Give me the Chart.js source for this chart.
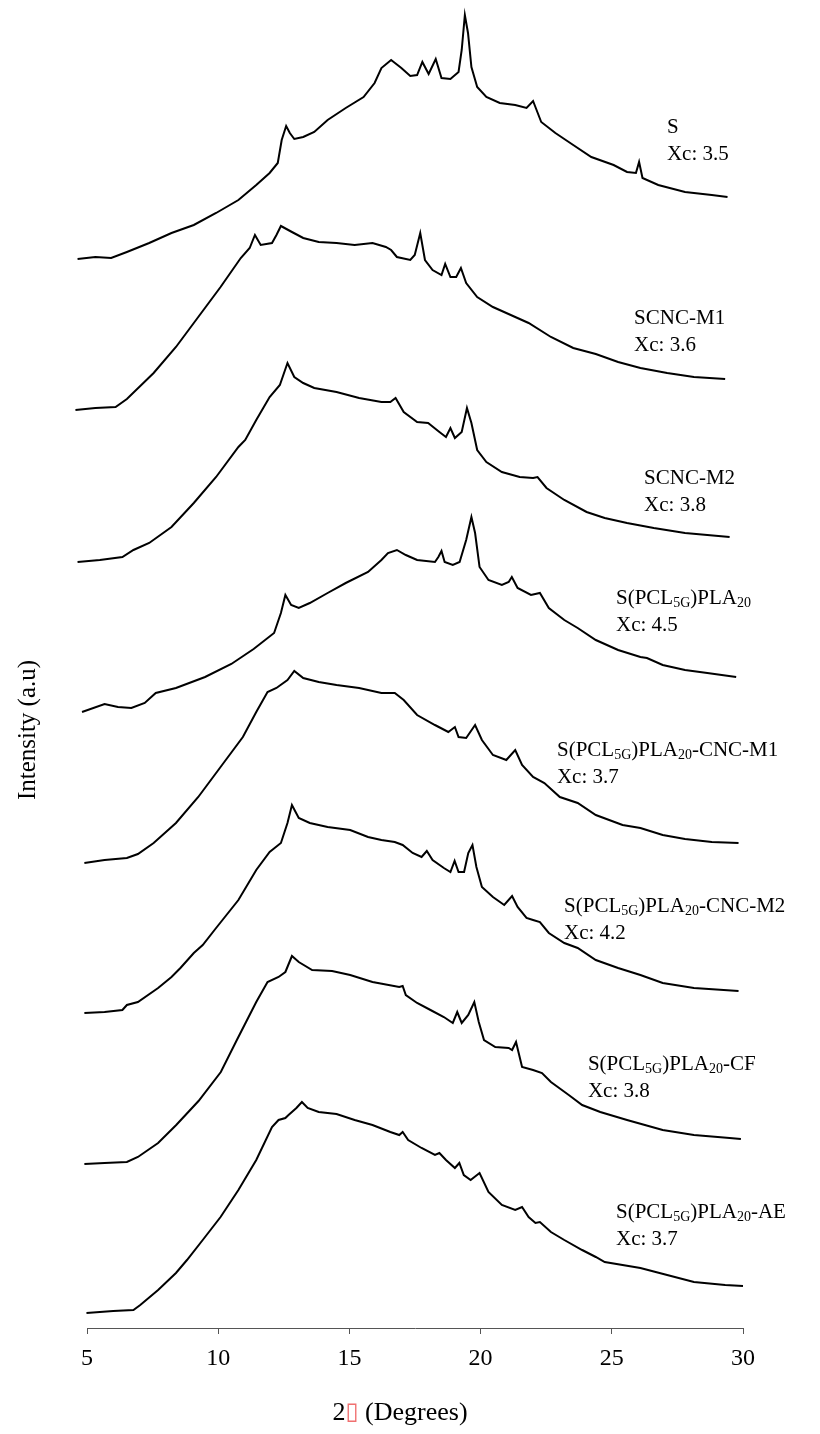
<!DOCTYPE html>
<html>
<head>
<meta charset="utf-8">
<script src="https://cdn.jsdelivr.net/npm/chart.js@4.4.0/dist/chart.umd.min.js"></script>
<style>
html, body { margin: 0; padding: 0; background: #fff; }
</style>
</head>
<body>
<canvas id="myChart" width="820" height="1434"></canvas>
<script>
// 2-theta (degrees) and stacked intensity (a.u.) for each pattern
var sX = [4.64,5.32,5.92,6.52,7.37,8.22,9.07,9.92,10.77,11.45,11.96,12.27,12.42,12.59,12.73,12.9,13.24,13.66,14.17,14.86,15.54,15.96,16.22,16.59,16.98,17.32,17.58,17.78,18.02,18.29,18.51,18.85,19.16,19.28,19.4,19.52,19.65,19.87,20.22,20.73,21.32,21.75,22.0,22.31,22.85,23.53,24.22,25.07,25.58,25.92,26.04,26.17,26.77,27.79,28.81,29.41];
var sY = [1069,1071,1070,1076,1085,1095,1103,1115,1128,1143,1155,1165,1188,1202,1195,1189,1191,1196,1208,1220,1231,1245,1260,1268,1260,1252,1253,1266,1254,1269,1250,1249,1256,1278,1313,1295,1261,1241,1231,1225,1223,1220,1227,1206,1195,1183,1171,1163,1156,1155,1166,1150,1143,1136,1133,1131];

var m1X = [4.56,5.32,6.09,6.52,7.54,8.39,9.24,10.09,10.86,11.2,11.4,11.62,12.05,12.22,12.39,12.81,13.24,13.83,14.51,15.2,15.88,16.39,16.59,16.81,17.32,17.49,17.7,17.88,18.17,18.51,18.65,18.85,19.07,19.25,19.45,19.87,20.47,21.15,21.83,22.68,23.53,24.39,25.24,26.09,27.11,28.13,29.32];
var m1Y = [918,920,921,929,955,981,1011,1041,1070,1080,1093,1083,1085,1093,1102,1096,1090,1086,1085,1083,1085,1081,1078,1071,1068,1073,1095,1068,1058,1053,1064,1051,1051,1060,1045,1031,1021,1013,1005,991,980,974,966,960,955,951,949];

var m2X = [4.64,5.49,6.35,6.77,7.37,8.22,9.07,9.92,10.77,11.03,11.45,11.96,12.35,12.64,12.9,13.24,13.66,14.51,15.37,16.22,16.56,16.76,17.07,17.58,18.0,18.43,18.68,18.85,19.02,19.28,19.48,19.65,19.87,20.22,20.81,21.49,22.0,22.17,22.51,23.19,24.04,24.73,25.58,26.6,27.79,29.49];
var m2Y = [766,768,771,778,785,801,825,851,881,888,908,931,943,965,951,945,940,936,930,926,926,930,916,906,905,896,891,900,890,896,920,905,878,866,856,851,850,851,840,828,816,810,805,800,795,791];

var pX = [4.81,5.67,6.18,6.69,7.2,7.62,8.39,9.5,10.5,11.35,12.13,12.39,12.56,12.78,13.07,13.49,14.17,14.86,15.71,16.22,16.47,16.81,17.15,17.58,18.26,18.39,18.51,18.63,18.94,19.2,19.45,19.65,19.79,19.96,20.3,20.81,21.07,21.19,21.41,21.92,22.26,22.6,23.19,23.7,24.39,25.24,26.09,26.34,26.94,27.79,28.64,29.74];
var pY = [616,624,621,620,625,635,640,651,664,679,695,715,733,723,720,725,735,745,756,768,775,778,773,768,766,771,777,766,763,766,788,811,795,761,748,743,746,751,740,733,735,720,708,700,688,678,671,670,663,658,655,651];

var c1X = [4.9,5.67,6.52,6.94,7.54,8.39,9.24,10.09,10.94,11.45,11.88,12.22,12.64,12.9,13.24,13.83,14.51,15.37,16.22,16.73,17.07,17.58,18.26,18.77,19.02,19.16,19.45,19.79,20.05,20.47,20.98,21.32,21.58,22.0,22.43,23.02,23.7,24.39,25.41,26.09,26.94,27.79,28.81,29.83];
var c1Y = [465,468,470,474,485,505,531,561,591,616,636,640,648,657,650,646,643,640,635,635,628,613,603,596,601,591,590,603,588,573,568,578,563,551,545,531,525,513,503,500,493,489,486,485];

var c2X = [4.9,5.67,6.35,6.52,6.94,7.71,8.22,8.56,9.07,9.41,9.92,10.77,11.45,11.96,12.39,12.64,12.81,13.07,13.49,14.17,15.03,15.71,16.22,16.73,17.03,17.41,17.75,17.95,18.17,18.6,18.85,19.01,19.16,19.37,19.53,19.69,19.84,20.05,20.47,20.9,21.2,21.41,21.75,22.0,22.26,22.6,23.19,23.7,24.39,25.24,26.09,26.94,28.13,29.83];
var c2Y = [315,316,318,323,326,340,351,360,375,383,400,428,458,476,485,505,523,510,505,501,498,491,488,486,483,475,471,477,468,460,456,467,456,456,475,483,461,441,431,423,432,421,410,408,406,395,385,380,368,360,353,345,340,337];

var cfX = [4.9,5.67,6.52,6.94,7.71,8.4,9.25,10.1,10.73,11.45,11.88,12.3,12.56,12.81,13.07,13.58,14.34,15.03,15.88,16.9,17.03,17.15,17.58,18.09,18.6,18.94,19.11,19.28,19.53,19.76,19.93,20.13,20.56,21.07,21.2,21.35,21.58,22.0,22.34,22.68,23.36,23.87,24.56,25.58,26.94,28.13,29.49,29.92];
var cfY = [164,165,166,171,185,203,227,256,289,326,346,351,356,372,366,358,357,353,346,341,342,333,325,318,311,305,316,305,313,326,306,288,281,280,278,286,261,258,255,246,233,223,216,208,198,193,190,189];

var aeX = [4.98,6.0,6.77,7.03,7.71,8.39,8.81,9.41,10.09,10.77,11.45,12.05,12.3,12.56,12.68,12.98,13.19,13.41,13.83,14.51,15.2,15.88,16.56,16.9,17.03,17.24,17.75,18.26,18.43,18.68,19.02,19.19,19.36,19.62,19.96,20.3,20.81,21.32,21.58,21.83,22.09,22.26,22.68,23.19,23.87,24.39,24.73,26.09,27.11,28.13,29.32,30.0];
var aeY = [15,17,18,23,38,55,68,88,111,138,168,201,208,210,213,220,226,220,216,214,208,203,196,193,196,188,180,173,175,168,160,165,153,148,155,136,123,118,121,111,105,106,96,88,78,71,66,60,53,46,43,42];

// sample names (_{..} = subscript) and crystallinity
var names = ["S", "SCNC-M1", "SCNC-M2", "S(PCL_{5G})PLA_{20}", "S(PCL_{5G})PLA_{20}-CNC-M1",
             "S(PCL_{5G})PLA_{20}-CNC-M2", "S(PCL_{5G})PLA_{20}-CF", "S(PCL_{5G})PLA_{20}-AE"];
var xc = ["3.5", "3.6", "3.8", "4.5", "3.7", "4.2", "3.8", "3.7"];
var xTicks = [5, 10, 15, 20, 25, 30];

var series = [[sX, sY], [m1X, m1Y], [m2X, m2Y], [pX, pY], [c1X, c1Y], [c2X, c2Y], [cfX, cfY], [aeX, aeY]];

// where each label sits, in axis units (2-theta, a.u.)
var labelAt = [[27.1, 1201], [25.85, 1010], [26.23, 850], [25.16, 730],
               [22.91, 578], [23.18, 422], [24.09, 264], [25.16, 116]];

var serif = "'Liberation Serif', 'Times New Roman', serif";
Chart.defaults.font.family = serif;
Chart.defaults.color = '#000';

function drawRuns(ctx, str, x, y) {
    var parts = str.split(/_\{([^}]*)\}/);
    for (var i = 0; i < parts.length; i++) {
        var sub = i % 2 == 1;
        ctx.font = (sub ? "14px " : "21px ") + serif;
        ctx.fillText(parts[i], x, sub ? y + 5 : y);
        x += ctx.measureText(parts[i]).width;
    }
}

var annotate = {
    id: 'annotate',
    afterDraw: function (chart) {
        var ctx = chart.ctx;
        var xs = chart.scales.x, ys = chart.scales.y;
        ctx.save();
        ctx.fillStyle = '#000';
        ctx.textBaseline = 'middle';
        ctx.textAlign = 'left';
        for (var i = 0; i < names.length; i++) {
            var px = xs.getPixelForValue(labelAt[i][0]);
            var py = ys.getPixelForValue(labelAt[i][1]);
            drawRuns(ctx, names[i], px, py);
            ctx.font = "21px " + serif;
            ctx.fillText("Xc: " + xc[i], px, py + 27);
        }

        // x title: 2, box, (Degrees)
        ctx.font = "26px " + serif;
        var a = "2", b = "\u25AF", c = " (Degrees)";
        var wa = ctx.measureText(a).width, wc = ctx.measureText(c).width;
        ctx.font = "24px 'DejaVu Sans'";
        var wb = ctx.measureText(b).width;
        var x0 = 400 - (wa + wb + wc) / 2, ty = 1413;
        ctx.font = "26px " + serif;
        ctx.fillText(a, x0, ty);
        ctx.fillStyle = '#f07070';
        ctx.font = "24px 'DejaVu Sans'";
        ctx.fillText(b, x0 + wa, ty);
        ctx.fillStyle = '#000';
        ctx.font = "26px " + serif;
        ctx.fillText(c, x0 + wa + wb, ty);

        // y title
        ctx.font = "25px " + serif;
        ctx.translate(28, 730);
        ctx.rotate(-Math.PI / 2);
        ctx.textAlign = 'center';
        ctx.fillText("Intensity (a.u)", 0, 0);
        ctx.restore();
    }
};

var ctx = document.getElementById("myChart");

var myChart = new Chart(ctx, {
    type: 'line',
    data: {
        datasets: series.map(function (s, i) {
            return {
                label: names[i],
                data: s[0].map(function (x, j) { return { x: x, y: s[1][j] }; }),
                borderColor: '#000',
                borderWidth: 2,
                pointRadius: 0,
                tension: 0,
                fill: false,
                clip: false
            };
        })
    },
    options: {
        responsive: false,
        animation: false,
        layout: { padding: { top: 8, left: 87, right: 77, bottom: 0 } },
        plugins: { legend: { display: false }, tooltip: { enabled: false } },
        scales: {
            x: {
                type: 'linear',
                min: 5,
                max: 30,
                afterFit: function (scale) { scale.height = 106; },
                afterBuildTicks: function (scale) {
                    scale.ticks = xTicks.map(function (v) { return { value: v }; });
                },
                grid: { drawOnChartArea: false, drawTicks: true, tickLength: 6, color: '#555' },
                border: { display: true, color: '#555', width: 1 },
                ticks: { color: '#000', padding: 10, maxRotation: 0, autoSkip: false, font: { size: 24 } }
            },
            y: {
                display: false,
                min: 0,
                max: 1320
            }
        }
    },
    plugins: [annotate]
});
</script>
</body>
</html>
